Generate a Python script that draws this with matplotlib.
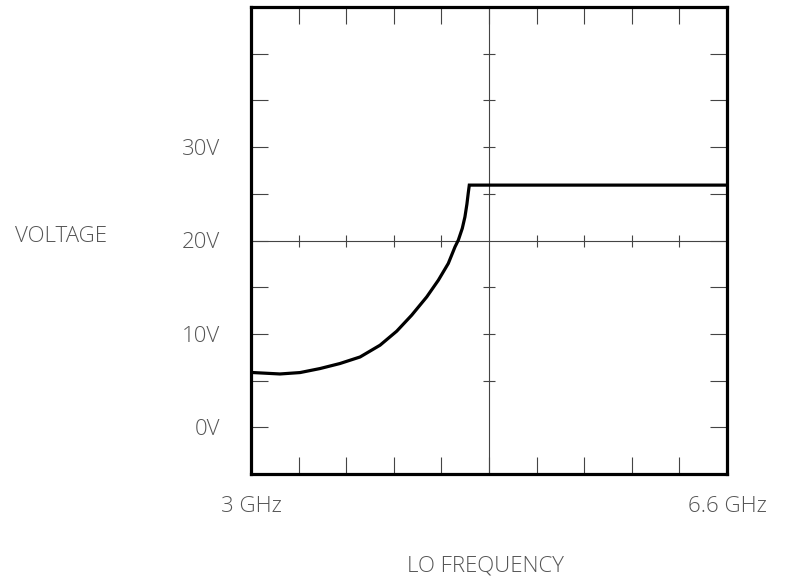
import numpy as np
import matplotlib
matplotlib.use("Agg")
import matplotlib.pyplot as plt
from matplotlib import font_manager

# Данные кривой: частота гетеродина (ГГц) и напряжение (В)
freq_ghz = [3.000, 3.017, 3.219, 3.371, 3.522, 3.673, 3.825, 3.976, 4.102,
            4.215, 4.329, 4.417, 4.492, 4.543, 4.568, 4.598, 4.618, 4.633,
            4.643, 4.651, 6.600]
voltage = [5.84, 5.86, 5.71, 5.86, 6.29, 6.83, 7.53, 8.79, 10.29,
           12.0, 13.96, 15.75, 17.54, 19.32, 20.04, 21.3, 22.53, 23.9,
           25.07, 25.93, 25.93]

x_min, x_max = 3.0, 6.6
y_min, y_max = -5, 45
x_ticks = np.linspace(x_min, x_max, 11)
y_ticks = [0, 5, 10, 15, 20, 25, 30, 35, 40]
y_tick_labels = ["0V", "", "10V", "", "20V", "", "30V", "", ""]
x_tick_labels = ["3 GHz"] + [""] * 9 + ["6.6 GHz"]
x_center, y_center = 4.8, 20

TXT = "#555555"
LINE = "#444444"

# тонкий шрифт, если есть
names = {f.name for f in font_manager.fontManager.ttflist}
family = ["Open Sans", "DejaVu Sans"] if "Open Sans" in names else ["DejaVu Sans"]
plt.rcParams["font.family"] = family
plt.rcParams["font.weight"] = "light"
FS = 16

fig = plt.figure(figsize=(7.86, 5.82), dpi=100)
ax = fig.add_axes([251 / 786, 1 - 474 / 582, 476 / 786, 467 / 582])
ax.set_xlim(x_min, x_max)
ax.set_ylim(y_min, y_max)

for s in ax.spines.values():
    s.set_linewidth(2.3)
    s.set_color("black")

ax.set_xticks(x_ticks)
ax.set_xticklabels(x_tick_labels)
ax.set_yticks(y_ticks)
ax.set_yticklabels(y_tick_labels)
ax.tick_params(axis="both", direction="in", length=12, width=0.8, color=LINE,
               top=True, right=True, labelsize=FS, labelcolor=TXT)
ax.tick_params(axis="y", pad=22)
ax.tick_params(axis="x", pad=16)

# центральное перекрестие с мелкими засечками
ax.axhline(y_center, color=LINE, lw=0.8)
ax.axvline(x_center, color=LINE, lw=0.8)
inner_x = [v for v in x_ticks[1:-1] if abs(v - x_center) > 1e-9]
inner_y = [v for v in y_ticks[1:] if v != y_center]
ax.plot(inner_x, [y_center] * len(inner_x), ls="none", marker="|",
        ms=9, mew=0.8, color=LINE)
ax.plot([x_center] * len(inner_y), inner_y, ls="none", marker="_",
        ms=9, mew=0.8, color=LINE)

ax.plot(freq_ghz, voltage, color="black", lw=2.3, solid_joinstyle="miter",
        solid_capstyle="butt", clip_on=False, zorder=5)

fig.text(15 / 786, 1 - 236 / 582, "VOLTAGE", fontsize=FS, color=TXT,
         ha="left", va="center")
fig.text(485 / 786, 1 - 566 / 582, "LO FREQUENCY", fontsize=FS, color=TXT,
         ha="center", va="center")

fig.savefig("out.png", dpi=100)
